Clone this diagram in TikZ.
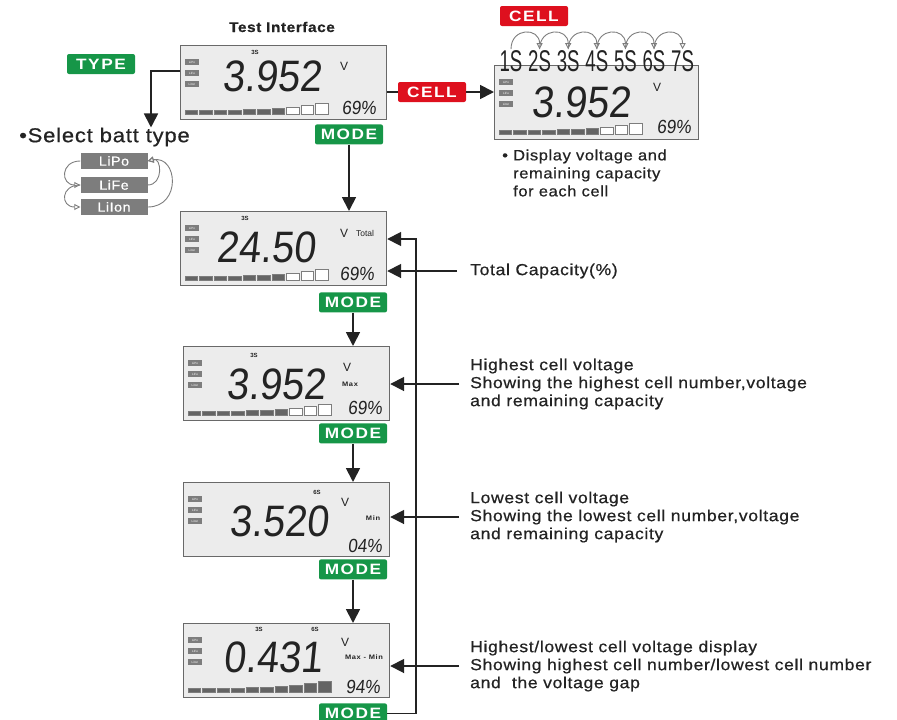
\documentclass[tikz,border=0pt]{standalone}
\usepackage{fontspec}
\setmainfont{Liberation Sans}
\newfontfamily\lcdfont{Liberation Sans}[FakeSlant=0.1,FakeStretch=0.9]
\newfontfamily\cellfont{Liberation Sans}[FakeStretch=0.62]
\newfontfamily\notefont{Liberation Sans}[FakeStretch=1.1,LetterSpace=4,FakeBold=0.6]
\newfontfamily\badgefont{Liberation Sans}[FakeStretch=1.15,LetterSpace=10]
\usetikzlibrary{arrows.meta,positioning,calc}
\definecolor{cgreen}{RGB}{22,150,72}
\definecolor{cred}{RGB}{222,16,30}
\definecolor{clcd}{RGB}{236,236,236}
\definecolor{cframe}{RGB}{105,105,105}
\definecolor{ctag}{RGB}{125,125,125}
\definecolor{cink}{RGB}{35,35,35}

% LCD screen: frame and battery tags
\newcommand{\lcdscreen}[4]{%
  \node[lcd, minimum width=#4pt] (#1) at (#2,#3) {};
  \foreach \t [count=\k] in {LiPo,LiFe,LiIon}
    \node[lcdtag] at ($(#1.north west)+(12,6+11*\k)$) {\t};
}
% LCD screen: capacity bar, #2 segments filled
\newcommand{\lcdbars}[2]{%
  \foreach \h [count=\k] in {4,4,4,4,4.5,5,6,7,9,11} {
    \ifnum\k>#2 \def\barfill{white}\else\def\barfill{ctag!80!black}\fi
    \draw[draw=ctag, fill=\barfill, line width=0.5pt]
      ($(#1.north west)+(14.5*\k-9.5,69)$) rectangle ++(12.5,-\h);
  }
}

\begin{document}
\begin{tikzpicture}[
    x=1pt, y=-1pt,
    >={Triangle[width=14pt,length=14pt]},
    arr/.style={
        ->,
        line width=1.8pt,
        draw=cink
    },
    link/.style={
        line width=1.8pt,
        draw=cink
    },
    lcd/.style={
        rectangle,
        draw=cframe,
        fill=clcd,
        line width=1.2pt,
        minimum height=74pt,
        anchor=north west,
        inner sep=0pt
    },
    lcdtag/.style={
        fill=ctag,
        text=white,
        font=\fontsize{3}{3}\selectfont,
        minimum width=14pt,
        minimum height=6pt,
        inner sep=0pt
    },
    digits/.style={
        font=\lcdfont\fontsize{44}{44}\selectfont,
        text=cink,
        inner sep=0pt
    },
    pct/.style={
        font=\lcdfont\fontsize{19}{19}\selectfont,
        text=cink,
        inner sep=0pt
    },
    unitv/.style={
        font=\fontsize{12}{12}\selectfont,
        text=cink,
        inner sep=0pt
    },
    cellmark/.style={
        font=\bfseries\fontsize{6}{6}\selectfont,
        text=cink,
        inner sep=0pt
    },
    tinylbl/.style={
        font=\badgefont\bfseries\fontsize{6.5}{6.5}\selectfont,
        text=cink,
        inner sep=0pt
    },
    badge/.style={
        rectangle,
        rounded corners=2pt,
        fill=#1,
        text=white,
        font=\badgefont\bfseries\fontsize{15}{15}\selectfont,
        minimum width=68pt,
        minimum height=20pt,
        inner sep=0pt
    },
    battbox/.style={
        rectangle,
        fill=ctag,
        text=white,
        font=\notefont\fontsize{13}{13}\selectfont,
        minimum width=67pt,
        minimum height=16pt,
        inner sep=0pt
    },
    cellnum/.style={
        font=\cellfont\fontsize{30}{30}\selectfont,
        text=cink,
        inner sep=1pt
    },
    note/.style={
        font=\notefont\fontsize{16}{18}\selectfont,
        text=cink,
        align=left,
        anchor=west,
        inner sep=0pt
    },
    swap/.style={
        ->,
        >={Triangle[open,width=6pt,length=6pt]},
        line width=0.9pt,
        draw=ctag
    }
]
\useasboundingbox (0,0) rectangle (897,720);

% Test interface screen
\node[font=\notefont\bfseries\fontsize{14}{14}\selectfont, text=cink] (title) at (282,27) {Test Interface};
\lcdscreen{l0}{180}{45}{206}
\node[digits] at ($(l0.north west)+(92,31)$) {3.952};
\node[cellmark] at ($(l0.north west)+(75,7)$) {3S};
\node[unitv] at ($(l0.north west)+(164,21)$) {V};
\node[pct] at ($(l0.north west)+(179,63)$) {69\%};
\lcdbars{l0}{7}

% Battery type selection
\node[badge=cgreen] (type) at (101,64) {TYPE};
\coordinate (typec) at (151,71);
\node[note, font=\notefont\fontsize{20}{20}\selectfont] (seltype) at (19,137) {\textbullet Select batt type};
\node[battbox] (bp) at (114,161) {LiPo};
\node[battbox] (bf) at (114,185) {LiFe};
\node[battbox] (bi) at (114,207) {LiIon};
\draw[arr] (l0.west |- typec) -| (typec |- seltype.north);
\draw[swap] (bp.west) .. controls +(-20,0) and +(-20,0) .. (bf.west);
\draw[swap] (bf.west) .. controls +(-20,0) and +(-20,0) .. (bi.west);
\draw[swap] (bi.east) .. controls +(34,0) and +(30,-6) .. (bp.east);
\draw[swap] (bf.east) .. controls +(16,0) and +(14,-4) .. (bp.east);

% Per-cell screen
\node[badge=cred] (cellb) at (432,92) {CELL};
\lcdscreen{lr}{494}{65}{204}
\node[digits] at ($(lr.north west)+(87,37)$) {3.952};
\node[unitv] at ($(lr.north west)+(163,22)$) {V};
\node[pct] at ($(lr.north west)+(180,62)$) {69\%};
\lcdbars{lr}{7}
\node[badge=cred] (celltop) at (534,16) {CELL};
\foreach \k in {1,...,7}
    \node[cellnum] (c\k) at (482.4+28.6*\k,61) {\k S};
\foreach \k [evaluate=\k as \j using int(\k+1)] in {1,...,6}
    \draw[swap] (c\k.north) .. controls +(0,-22) and +(0,-22) .. (c\j.north);
\node[note, font=\notefont\fontsize{15}{18}\selectfont] (cellnote) at (502,173)
    {\textbullet{} Display voltage and\\\hspace{11pt}remaining capacity\\\hspace{11pt}for each cell};
\draw[link] (l0.east |- cellb) -- (cellb.west);
\draw[arr] (cellb.east) -- (lr.west |- cellb);

% Total screen
\node[badge=cgreen, anchor=north east] (m0) at ([xshift=-4pt,yshift=-4pt]l0.south east) {MODE};
\lcdscreen{l1}{180}{211}{206}
\node[digits] at ($(l1.north west)+(86,36)$) {24.50};
\node[cellmark] at ($(l1.north west)+(65,7)$) {3S};
\node[unitv] at ($(l1.north west)+(164,22)$) {V};
\node[font=\fontsize{8.5}{8.5}\selectfont, text=cink, inner sep=0pt] at ($(l1.north west)+(185,22)$) {Total};
\node[pct] at ($(l1.north west)+(177,63)$) {69\%};
\lcdbars{l1}{7}
\draw[arr] (m0.south) -- (m0.south |- l1.north);

% Highest cell screen
\node[badge=cgreen, anchor=north east] (m1) at ([yshift=-6pt]l1.south east) {MODE};
\lcdscreen{l2}{183}{346}{206}
\node[digits] at ($(l2.north west)+(93,38)$) {3.952};
\node[cellmark] at ($(l2.north west)+(71,9)$) {3S};
\node[unitv] at ($(l2.north west)+(164,21)$) {V};
\node[tinylbl] at ($(l2.north west)+(167,38)$) {Max};
\node[pct] at ($(l2.north west)+(182,62)$) {69\%};
\lcdbars{l2}{7}
\draw[arr] (m1.south) -- (m1.south |- l2.north);

% Lowest cell screen
\node[badge=cgreen, anchor=north east] (m2) at ([xshift=-3pt,yshift=-2pt]l2.south east) {MODE};
\lcdscreen{l3}{183}{482}{206}
\node[digits] at ($(l3.north west)+(96,39)$) {3.520};
\node[cellmark] at ($(l3.north west)+(134,10)$) {6S};
\node[unitv] at ($(l3.north west)+(162,20)$) {V};
\node[tinylbl] at ($(l3.north west)+(190,36)$) {Min};
\node[pct] at ($(l3.north west)+(182,64)$) {04\%};
\draw[arr] (m2.south) -- (m2.south |- l3.north);

% Voltage gap screen
\node[badge=cgreen, anchor=north east] (m3) at ([xshift=-3pt,yshift=-2pt]l3.south east) {MODE};
\lcdscreen{l4}{183}{623}{206}
\node[digits] at ($(l4.north west)+(90,34)$) {0.431};
\node[cellmark] at ($(l4.north west)+(76,6)$) {3S};
\node[cellmark] at ($(l4.north west)+(132,6)$) {6S};
\node[unitv] at ($(l4.north west)+(162,19)$) {V};
\node[tinylbl] at ($(l4.north west)+(181,34)$) {Max - Min};
\node[pct] at ($(l4.north west)+(180,64)$) {94\%};
\lcdbars{l4}{10}
\draw[arr] (m3.south) -- (m3.south |- l4.north);
\node[badge=cgreen, anchor=north east] (m4) at ([xshift=-3pt,yshift=-5pt]l4.south east) {MODE};

% Back to the total screen
\coordinate (loop) at (416,239);
\draw[arr] (m4.east) -| (loop) -- (l1.east |- loop);

% Notes
\node[note] (tcap) at (470,271) {Total Capacity(\%)};
\node[note] (thigh) at (470,384) {Highest cell voltage\\Showing the highest cell number,voltage\\and remaining capacity};
\node[note] (tlow) at (470,517) {Lowest cell voltage\\Showing the lowest cell number,voltage\\and remaining capacity};
\node[note] (tgap) at (470,666) {Highest/lowest cell voltage display\\Showing highest cell number/lowest cell number\\and \ the voltage gap};
\draw[arr] ([xshift=-13pt]tcap.west) -- (l1.east |- tcap.west);
\draw[arr] ([xshift=-11pt]thigh.west) -- (l2.east |- thigh.west);
\draw[arr] ([xshift=-11pt]tlow.west) -- (l3.east |- tlow.west);
\draw[arr] ([xshift=-11pt]tgap.west) -- (l4.east |- tgap.west);

\end{tikzpicture}
\end{document}
